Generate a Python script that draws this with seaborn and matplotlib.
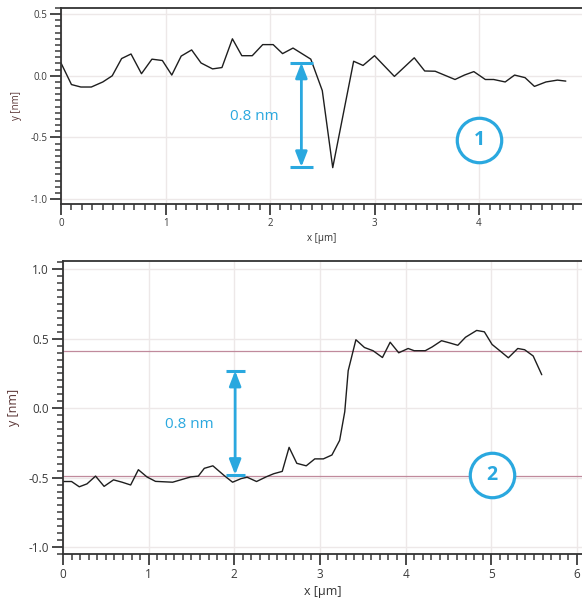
import numpy as np
import pandas as pd
import matplotlib
matplotlib.use("Agg")
import matplotlib.pyplot as plt
from matplotlib.ticker import MultipleLocator
import seaborn as sns

# ---- data: profile 1 (top) ----
x1 = [0.00, 0.10, 0.19, 0.29, 0.40, 0.49, 0.58, 0.67, 0.77, 0.87, 0.97, 1.06,
      1.15, 1.25, 1.34, 1.45, 1.54, 1.64, 1.73, 1.83, 1.93, 2.03, 2.12, 2.22,
      2.39, 2.50, 2.60, 2.80, 2.89, 3.00, 3.19, 3.38, 3.48, 3.58, 3.77, 3.86,
      3.95, 4.06, 4.14, 4.25, 4.34, 4.44, 4.53, 4.64, 4.75, 4.83]
y1 = [0.104, -0.071, -0.091, -0.091, -0.050, 0.000, 0.140, 0.177, 0.017, 0.135,
      0.124, 0.006, 0.160, 0.210, 0.104, 0.056, 0.067, 0.300, 0.163, 0.163,
      0.253, 0.253, 0.180, 0.225, 0.135, -0.120, -0.745, 0.118, 0.084, 0.163,
      -0.005, 0.146, 0.039, 0.037, -0.030, 0.006, 0.034, -0.030, -0.030, -0.050,
      0.006, -0.015, -0.086, -0.050, -0.035, -0.043]

# ---- data: profile 2 (bottom) ----
x2 = [0.00, 0.10, 0.19, 0.28, 0.38, 0.48, 0.59, 0.69, 0.79, 0.88, 0.98, 1.08,
      1.18, 1.28, 1.38, 1.49, 1.58, 1.65, 1.75, 1.88, 1.98, 2.08, 2.15, 2.26,
      2.37, 2.46, 2.56, 2.64, 2.73, 2.84, 2.94, 3.04, 3.14, 3.23, 3.29, 3.33,
      3.42, 3.52, 3.62, 3.73, 3.82, 3.92, 4.03, 4.10, 4.23, 4.31, 4.42, 4.51,
      4.61, 4.70, 4.83, 4.92, 5.01, 5.10, 5.20, 5.31, 5.39, 5.49, 5.59]
y2 = [-0.528, -0.528, -0.566, -0.545, -0.489, -0.563, -0.516, -0.533, -0.553,
      -0.443, -0.495, -0.527, -0.530, -0.533, -0.515, -0.495, -0.489, -0.433,
      -0.415, -0.484, -0.533, -0.507, -0.497, -0.528, -0.495, -0.472, -0.455,
      -0.282, -0.397, -0.415, -0.365, -0.365, -0.337, -0.232, -0.025, 0.270,
      0.493, 0.437, 0.414, 0.365, 0.475, 0.399, 0.430, 0.414, 0.414, 0.441,
      0.486, 0.471, 0.453, 0.511, 0.560, 0.550, 0.459, 0.414, 0.363, 0.430,
      0.421, 0.376, 0.241]

# reference levels in profile 2
levels2 = [0.41, -0.485]

# annotations
step_label = "0.8 nm"
arrow1 = (2.30, 0.107, -0.740)   # x, top, bottom
arrow2 = (2.01, 0.270, -0.480)
text1 = (1.85, -0.33)
text2 = (1.48, -0.12)
badge1 = (4.0, -0.52, "1")
badge2 = (5.01, -0.48, "2")

xlabel = "x [µm]"
ylabel = "y [nm]"

CYAN = "#2aa8df"
LINE = "#1e1e1e"
GRID = "#ede8e8"
TICK = "#3a3a3a"

sns.set_style("white")
plt.rcParams["font.family"] = ["Open Sans", "DejaVu Sans"]

fig = plt.figure(figsize=(5.82, 6.05), dpi=100)
ax1 = fig.add_axes([61 / 582, 1 - 204 / 605, 1 - 61 / 582, (204 - 8) / 605])
ax2 = fig.add_axes([63 / 582, 1 - 554 / 605, 1 - 63 / 582, (554 - 261) / 605])

df1 = pd.DataFrame({"x": x1, "y": y1})
df2 = pd.DataFrame({"x": x2, "y": y2})
sns.lineplot(data=df1, x="x", y="y", ax=ax1, color=LINE, lw=1.0, sort=False)
sns.lineplot(data=df2, x="x", y="y", ax=ax2, color=LINE, lw=1.0, sort=False)

for lv in levels2:
    ax2.axhline(lv, color="#c08a9c", lw=0.9, zorder=1)


def style(ax, xlim, ylim, fs, lfs):
    ax.set_xlim(*xlim)
    ax.set_ylim(*ylim)
    ax.xaxis.set_major_locator(MultipleLocator(1))
    ax.xaxis.set_minor_locator(MultipleLocator(0.1))
    ax.yaxis.set_major_locator(MultipleLocator(0.5))
    ax.yaxis.set_minor_locator(MultipleLocator(0.05))
    ax.yaxis.set_major_formatter(matplotlib.ticker.FormatStrFormatter("%.1f"))
    ax.grid(True, which="major", color=GRID, lw=1.0, zorder=0)
    ax.set_axisbelow(True)
    ax.spines["right"].set_visible(False)
    for s in ["left", "bottom", "top"]:
        ax.spines[s].set_color("#333333")
        ax.spines[s].set_linewidth(1.3)
    ax.tick_params(axis="both", which="major", direction="out", length=8,
                   width=1.3, color=TICK, labelsize=fs, labelcolor=TICK, pad=2)
    ax.tick_params(axis="both", which="minor", direction="out", length=4.5,
                   width=1.1, color=TICK)
    ax.tick_params(left=True, bottom=True, which="both")
    ax.set_xlabel(xlabel, fontsize=lfs, color="#333333", labelpad=3)
    ax.set_ylabel(ylabel, fontsize=lfs, color="#5a3535", labelpad=6)


style(ax1, (0, 4.985), (-1.04, 0.55), 7, 7)
style(ax2, (0, 6.06), (-1.05, 1.06), 8.5, 9)


def measure(ax, arr, txt, badge, fs_txt):
    x, top, bot = arr
    ax.annotate("", xy=(x, bot), xytext=(x, top),
                arrowprops=dict(arrowstyle="<|-|>,head_length=0.9,head_width=0.35",
                                color=CYAN, lw=2.0, shrinkA=0, shrinkB=0))
    hw = 0.11
    ax.hlines([top, bot], x - hw, x + hw, color=CYAN, lw=2.2)
    ax.text(txt[0], txt[1], step_label, color=CYAN, fontsize=fs_txt,
            ha="center", va="center")
    ax.plot([badge[0]], [badge[1]], marker="o", ms=32, mfc="white",
            mec=CYAN, mew=2.3, zorder=5)
    ax.text(badge[0], badge[1], badge[2], color=CYAN, fontsize=14,
            fontweight="bold", ha="center", va="center", zorder=6)


measure(ax1, arrow1, text1, badge1, 11)
measure(ax2, arrow2, text2, badge2, 11)

fig.savefig("out.png", dpi=100)
